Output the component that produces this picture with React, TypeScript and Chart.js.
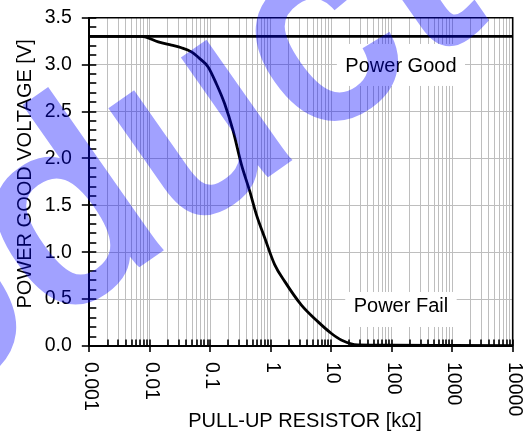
import React, { useEffect, useRef } from "react";
import { Chart, registerables } from "chart.js";

Chart.register(...registerables);

const FONT = "'Liberation Sans', Arial, Helvetica, sans-serif";

// Falling curve: pull-up resistor (kΩ) vs power-good pin voltage (V)
const resistorKOhm = [
  0.001, 0.0073, 0.0138, 0.0228, 0.0333, 0.0487, 0.067, 0.092, 0.126, 0.173,
  0.238, 0.326, 0.448, 0.577, 0.794, 1.16, 1.7, 3.19, 6.01, 9.96, 14.6, 27.5,
  100, 1000, 10000,
];
const powerFailVolts = [
  3.3, 3.3, 3.243, 3.207, 3.18, 3.136, 3.064, 2.975, 2.796, 2.582, 2.296,
  1.939, 1.653, 1.404, 1.154, 0.868, 0.689, 0.439, 0.26, 0.136, 0.064, 0.011,
  0.008, 0.006, 0.004,
];

// Flat reference line
const powerGoodX = [0.001, 10000];
const powerGoodVolts = [3.3, 3.3];

// Axes
const xDecades = [0.001, 0.01, 0.1, 1, 10, 100, 1000, 10000];
const xTickLabels = ["0.001", "0.01", "0.1", "1", "10", "100", "1000", "10000"];
const minorMultipliers = [2, 3, 4, 5, 6, 7, 8, 9];
const yMin = 0;
const yMax = 3.5;
const yStep = 0.5;
const yMinorStep = 0.1;

const xTitle = "PULL-UP RESISTOR [kΩ]";
const yTitle = "POWER GOOD VOLTAGE [V]";

const regionLabels = [
  { text: "Power Good", x: 142, y: 2.975, boxUp: 23, boxH: 42 },
  { text: "Power Fail", x: 142, y: 0.416, boxUp: 15, boxH: 35 },
];

const watermarkText = "Product";

const allXTicks: number[] = [];
xDecades.forEach((d, i) => {
  allXTicks.push(d);
  if (i < xDecades.length - 1) minorMultipliers.forEach((m) => allXTicks.push(d * m));
});

const overlayPlugin = {
  id: "overlay",
  beforeDatasetsDraw(chart: any) {
    const { ctx, scales } = chart;
    const x = scales.x;
    const y = scales.y;
    ctx.save();
    ctx.font = `20px ${FONT}`;
    ctx.fillStyle = "#ffffff";
    for (const lab of regionLabels) {
      const cx = x.getPixelForValue(lab.x);
      const cy = y.getPixelForValue(lab.y);
      const w = ctx.measureText(lab.text).width;
      ctx.fillRect(cx - w / 2 - 8.5, cy - lab.boxUp, w + 17, lab.boxH);
    }
    ctx.restore();
  },
  afterDatasetsDraw(chart: any) {
    const { ctx, scales, chartArea } = chart;
    const x = scales.x;
    const y = scales.y;
    ctx.save();
    // top & right border
    ctx.strokeStyle = "#000";
    ctx.lineWidth = 1.6;
    ctx.beginPath();
    ctx.moveTo(chartArea.left, chartArea.top);
    ctx.lineTo(chartArea.right, chartArea.top);
    ctx.lineTo(chartArea.right, chartArea.bottom);
    ctx.stroke();

    // y tick marks
    ctx.lineWidth = 1.6;
    const nMinor = Math.round((yMax - yMin) / yMinorStep);
    for (let i = 0; i <= nMinor; i++) {
      const v = yMin + i * yMinorStep;
      const py = Math.round(y.getPixelForValue(v));
      const major = i % Math.round(yStep / yMinorStep) === 0;
      ctx.beginPath();
      ctx.moveTo(major ? chartArea.left - 7.5 : chartArea.left, py);
      ctx.lineTo(chartArea.left + 7, py);
      ctx.stroke();
    }
    // x tick marks
    for (const t of allXTicks) {
      const px = Math.round(x.getPixelForValue(t));
      const major = xDecades.includes(t);
      ctx.beginPath();
      ctx.moveTo(px, chartArea.bottom - 6.5);
      ctx.lineTo(px, chartArea.bottom + (major ? 6 : 0));
      ctx.stroke();
    }

    // region labels
    ctx.fillStyle = "#000";
    ctx.font = `20px ${FONT}`;
    ctx.textAlign = "center";
    ctx.textBaseline = "middle";
    for (const lab of regionLabels) {
      ctx.fillText(lab.text, x.getPixelForValue(lab.x), y.getPixelForValue(lab.y));
    }

    // x tick labels, rotated clockwise
    ctx.font = `19.5px ${FONT}`;
    ctx.textAlign = "left";
    ctx.textBaseline = "middle";
    xDecades.forEach((d, i) => {
      const px = x.getPixelForValue(d);
      ctx.save();
      ctx.translate(px + 1.5, chartArea.bottom + 16);
      ctx.rotate(Math.PI / 2);
      ctx.fillText(xTickLabels[i], 0, 0);
      ctx.restore();
    });

    // axis titles
    ctx.font = `20px ${FONT}`;
    ctx.textAlign = "center";
    ctx.textBaseline = "middle";
    ctx.fillText(xTitle, (chartArea.left + chartArea.right) / 2 + 4, 421);
    ctx.save();
    ctx.translate(25, (chartArea.top + chartArea.bottom) / 2 - 8);
    ctx.rotate(-Math.PI / 2);
    ctx.fillText(yTitle, 0, 0);
    ctx.restore();
    ctx.restore();
  },
  afterDraw(chart: any) {
    const { ctx, canvas } = chart;
    const off = document.createElement("canvas");
    off.width = canvas.width;
    off.height = canvas.height;
    const o = off.getContext("2d") as CanvasRenderingContext2D;
    const F = 265;
    const spacing = 10;
    o.font = `${F}px ${FONT}`;
    const chars = watermarkText.split("");
    const advances = chars.map((c) => o.measureText(c).width);
    const dIndex = chars.indexOf("d");
    let sd = 0;
    for (let i = 0; i < dIndex; i++) sd += advances[i] + spacing;
    sd += 0.455 * F;
    const ang = (-35 * Math.PI) / 180;
    const ox = 150 - sd * Math.cos(ang);
    const oy = 255 - sd * Math.sin(ang);
    o.translate(ox, oy);
    o.rotate(ang);
    o.fillStyle = "#0000ff";
    o.strokeStyle = "#0000ff";
    o.lineWidth = 8;
    o.lineJoin = "miter";
    o.textAlign = "left";
    o.textBaseline = "alphabetic";
    let pos = 0;
    chars.forEach((c, i) => {
      o.fillText(c, pos, 0);
      o.strokeText(c, pos, 0);
      pos += advances[i] + spacing;
    });
    ctx.save();
    ctx.setTransform(1, 0, 0, 1, 0, 0);
    ctx.globalAlpha = 0.37;
    ctx.drawImage(off, 0, 0);
    ctx.restore();
  },
};

export default function App() {
  const ref = useRef<HTMLCanvasElement | null>(null);
  useEffect(() => {
    document.body.style.margin = "0";
    const canvas = ref.current;
    if (!canvas) return;
    const chart = new Chart(canvas, {
      type: "line",
      data: {
        datasets: [
          {
            label: "Power Good",
            data: powerGoodX.map((v, i) => ({ x: v, y: powerGoodVolts[i] })),
            borderColor: "#000",
            borderWidth: 2.8,
            pointRadius: 0,
            tension: 0,
          },
          {
            label: "Power Fail",
            data: resistorKOhm.map((v, i) => ({ x: v, y: powerFailVolts[i] })),
            borderColor: "#000",
            borderWidth: 2.8,
            pointRadius: 0,
            cubicInterpolationMode: "monotone",
          },
        ],
      },
      options: {
        responsive: false,
        animation: false,
        events: [],
        layout: { padding: { top: 17.7, right: 13.3, left: 0, bottom: 0 } },
        plugins: { legend: { display: false }, tooltip: { enabled: false } },
        scales: {
          x: {
            type: "logarithmic",
            min: 0.001,
            max: 10000,
            afterBuildTicks: (scale: any) => {
              scale.ticks = allXTicks.map((v) => ({ value: v, major: xDecades.includes(v) }));
            },
            afterFit: (scale: any) => {
              scale.height = 88;
              scale.paddingLeft = 0;
              scale.paddingRight = 0;
              scale.paddingTop = 0;
              scale.paddingBottom = 0;
            },
            ticks: { display: false },
            grid: { color: "#bebebe", lineWidth: 1, drawTicks: false },
            border: { display: true, color: "#000", width: 2 },
          },
          y: {
            type: "linear",
            min: yMin,
            max: yMax,
            afterFit: (scale: any) => {
              scale.width = 89.3;
              scale.paddingTop = 0;
              scale.paddingBottom = 0;
              scale.paddingLeft = 0;
              scale.paddingRight = 0;
            },
            ticks: {
              stepSize: yStep,
              color: "#000",
              padding: 17.5,
              font: { family: FONT, size: 19.5 },
              callback: (v: any) => Number(v).toFixed(1),
            },
            grid: { color: "#bebebe", lineWidth: 1, drawTicks: false },
            border: { display: true, color: "#000", width: 2 },
          },
        },
      },
      plugins: [overlayPlugin],
    } as any);
    return () => chart.destroy();
  }, []);
  return (
    <div style={{ position: "absolute", left: 0, top: 0, width: 526, height: 434 }}>
      <canvas ref={ref} width={526} height={434} style={{ display: "block" }} />
    </div>
  );
}
